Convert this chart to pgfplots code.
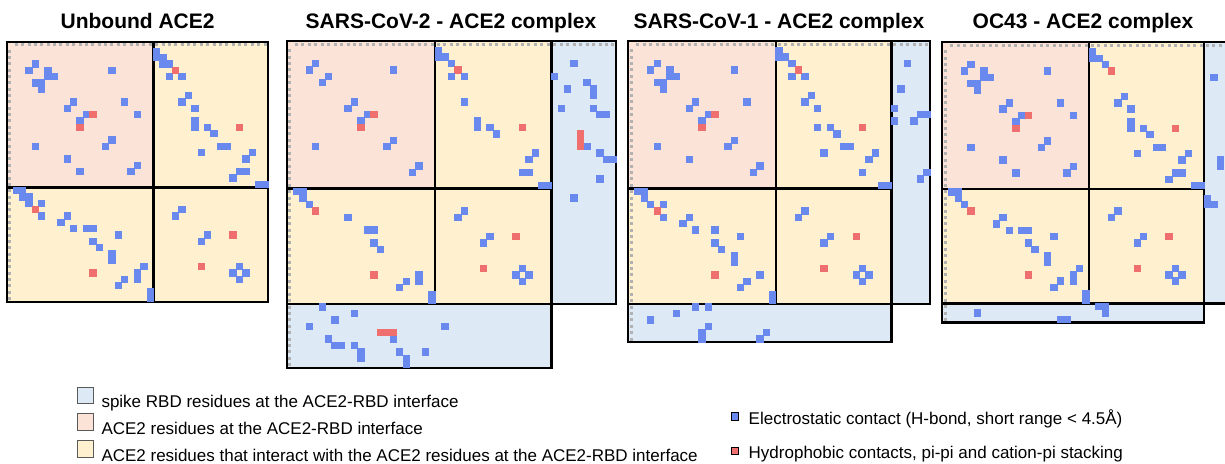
\documentclass[border=0pt]{standalone}
\usepackage{pgfplots}
\pgfplotsset{compat=1.18}
\usepackage{pgfplotstable}
\usepackage{fontspec}
\setmainfont{Liberation Sans}

\definecolor{cpink}{HTML}{FBE3D7}
\definecolor{cyel}{HTML}{FFF0CF}
\definecolor{clb}{HTML}{DDEAF6}
\definecolor{cblue}{HTML}{6A89EE}
\definecolor{cred}{HTML}{EF6F6E}

\newcommand{\tf}{\fontsize{21}{25}\selectfont\bfseries}
\newcommand{\lf}{\fontsize{17}{20}\selectfont}

% contacts: c = column residue, r = row residue (upper half; drawn mirrored too)
% residues 1-22 ACE2 interface, 23-40 second shell, 41+ spike RBD
\pgfplotstableread{
c r
4 3
6 4
6 5
7 5
16 4
10 9
18 9
12 11
20 11
16 15
20 19
23 1
23 2
24 2
24 3
25 3
25 5
27 5
28 8
27 9
29 10
29 12
29 13
31 13
32 14
33 16
34 16
30 17
38 17
37 18
36 20
37 20
35 21
39 22
40 22
27 26
31 30
36 35
37 36
}\pAb
\pgfplotstableread{
c r
13 11
26 4
36 13
35 30
}\pAr

\pgfplotstableread{
c r
4 3
6 5
16 4
10 9
12 11
16 15
20 19
23 1
23 2
24 2
25 3
27 9
29 12
29 13
31 13
32 14
38 17
37 18
36 20
37 20
39 22
40 22
27 26
31 30
36 35
37 36
41 5
42 10
43 7
44 3
44 24
46 6
46 16
47 7
47 8
47 10
48 11
48 17
48 21
49 11
49 18
50 18
}\pBb
\pgfplotstableread{
c r
13 11
26 4
36 13
35 30
45 14
45 15
45 16
}\pBr
\pgfplotstableread{
c r
25 5
27 5
}\pBx

\pgfplotstableread{
c r
4 3
6 4
6 5
7 5
16 4
10 9
18 9
12 11
16 15
20 19
23 1
23 2
24 2
25 3
25 5
27 5
28 8
27 9
29 10
29 13
31 13
32 14
33 16
34 16
30 17
38 17
37 18
36 20
39 22
40 22
27 26
31 30
36 35
37 36
41 10
41 12
42 7
43 3
44 12
45 11
45 21
46 11
46 20
}\pCb

\pgfplotstableread{
c r
4 3
6 4
6 5
7 5
16 4
10 9
18 9
12 11
20 11
16 15
20 19
23 1
23 2
24 2
25 3
28 8
27 9
29 10
29 12
29 13
31 13
32 14
33 16
34 16
30 17
38 17
37 18
36 20
37 20
35 21
39 22
40 22
27 26
31 30
36 35
37 36
42 5
43 18
43 19
41 24
41 25
42 25
}\pDb

% label strip positions (row/column 0 holds the residue labels)
\pgfplotstableread{
i z
1 0
2 0
3 0
4 0
5 0
6 0
7 0
8 0
9 0
10 0
11 0
12 0
13 0
14 0
15 0
16 0
17 0
18 0
19 0
20 0
21 0
22 0
23 0
24 0
25 0
26 0
27 0
28 0
29 0
30 0
31 0
32 0
33 0
34 0
35 0
36 0
37 0
38 0
39 0
40 0
41 0
42 0
43 0
44 0
45 0
46 0
47 0
48 0
49 0
50 0
}\hdr

\pgfplotsset{
  panel/.style={anchor=north west, y dir=reverse, xmin=-0.5, ymin=-0.5,
    hide axis, clip=false},
  ce/.style={only marks, mark=square*, mark size=3.2pt, mark options={line width=0pt}},
  hd/.style={only marks, mark=square*, mark size=1pt, black!30, mark options={line width=0pt}},
  bd/.style={black, line width=2.2pt, line cap=rect, line join=miter},
}

\newcommand{\blocks}{%
  \addplot[draw=none, fill=cyel] coordinates {(-0.5,-0.5) (40.5,-0.5) (40.5,40.5) (-0.5,40.5)};
  \addplot[draw=none, fill=cpink] coordinates {(-0.5,-0.5) (22.5,-0.5) (22.5,22.5) (-0.5,22.5)};
}
\newcommand{\strips}[2]{% #1 right end, #2 bottom end
  \addplot[draw=none, fill=clb] coordinates {(40.5,-0.5) (#1,-0.5) (#1,40.5) (40.5,40.5)};
  \addplot[draw=none, fill=clb] coordinates {(-0.5,40.5) (40.5,40.5) (40.5,#2) (-0.5,#2)};
}
\newcommand{\heads}[1]{%
  \addplot[hd, restrict x to domain=1:#1] table[x=i, y=z]{\hdr};
  \addplot[hd, restrict y to domain=1:#1] table[x=z, y=i]{\hdr};
}
\newcommand{\contacts}[2]{%
  \addplot[ce, cblue] table[x=c, y=r]{#1};
  \addplot[ce, cblue] table[x=r, y=c]{#1};
  \addplot[ce, cred] table[x=c, y=r]{#2};
  \addplot[ce, cred] table[x=r, y=c]{#2};
}
\newcommand{\mainframe}{%
  \addplot[bd] coordinates {(-0.5,-0.5) (40.5,-0.5) (40.5,40.5) (-0.5,40.5) (-0.5,-0.5)};
  \addplot[bd] coordinates {(22.5,-0.5) (22.5,40.5)};
  \addplot[bd] coordinates {(-0.5,22.5) (40.5,22.5)};
}
\newcommand{\stripframes}[1]{%
  \addplot[bd] coordinates {(40.5,-0.5) (#1,-0.5) (#1,40.5) (40.5,40.5)};
  \addplot[bd] coordinates {(-0.5,40.5) (-0.5,#1) (40.5,#1) (40.5,40.5)};
}

\begin{document}
\begin{tikzpicture}
\useasboundingbox (0,0) rectangle (1225pt,-463pt);

\begin{axis}[panel, at={(6.7pt,-41.7pt)}, x=6.38pt, y=6.34pt, xmax=40.5, ymax=40.5]
  \blocks
  \heads{40}
  \contacts{\pAb}{\pAr}
  \mainframe
\end{axis}

\begin{axis}[panel, at={(286.7pt,-41pt)}, x=6.46pt, y=6.41pt, xmax=50.5, ymax=50.5]
  \blocks
  \strips{50.5}{50.5}
  \heads{50}
  \contacts{\pBb}{\pBr}
  \addplot[ce, cblue] table[x=c, y=r]{\pBx};
  \mainframe
  \stripframes{50.5}
\end{axis}

\begin{axis}[panel, at={(628.3pt,-41pt)}, x=6.42pt, y=6.41pt, xmax=46.5, ymax=46.5]
  \blocks
  \strips{46.5}{46.5}
  \heads{46}
  \contacts{\pCb}{\pAr}
  \mainframe
  \stripframes{46.5}
\end{axis}

\begin{axis}[panel, at={(942.3pt,-42.3pt)}, x=6.39pt, y=6.37pt, xmax=43.5, ymax=43.5]
  \blocks
  \strips{43.9}{43.5}
  \heads{43}
  \contacts{\pDb}{\pAr}
  \mainframe
  \addplot[bd] coordinates {(43.9,-0.5) (40.5,-0.5)};
  \addplot[bd] coordinates {(40.5,40.5) (43.9,40.5)};
  \addplot[bd] coordinates {(-0.5,40.5) (-0.5,43.5) (40.5,43.5) (40.5,40.5)};
\end{axis}

% titles and legends
\begin{axis}[at={(0pt,0pt)}, anchor=north west, x=1pt, y=1pt, y dir=reverse,
  xmin=0, xmax=1225, ymin=0, ymax=463, hide axis, clip=false,
  legend image code/.code={\draw[#1, line width=1pt] (0pt,-2.3pt) rectangle (16.4pt,14.1pt);},
  legend cell align=left,
  legend style={at={(axis cs:76.7,386.6)}, anchor=north west, draw=none, fill=none,
    inner sep=0pt, outer sep=0pt, row sep=4.5pt, font=\lf,
    nodes={inner sep=0pt},
    /tikz/every odd column/.append style={column sep=7.4pt}}]
  \node[font=\tf, anchor=base] at (axis cs:137.6,28.3) {Unbound ACE2};
  \node[font=\tf, anchor=base] at (axis cs:451,28.3) {SARS-CoV-2 - ACE2 complex};
  \node[font=\tf, anchor=base] at (axis cs:779,28.3) {SARS-CoV-1 - ACE2 complex};
  \node[font=\tf, anchor=base] at (axis cs:1083,28.3) {OC43 - ACE2 complex};
  \addlegendimage{fill=clb, draw=black!65}
  \addlegendentry{\strut spike RBD residues at the ACE2-RBD interface}
  \addlegendimage{fill=cpink, draw=black!65}
  \addlegendentry{\strut ACE2 residues at the ACE2-RBD interface}
  \addlegendimage{fill=cyel, draw=black!65}
  \addlegendentry{\strut ACE2 residues that interact with the ACE2 residues at the ACE2-RBD interface}
\end{axis}

\begin{axis}[at={(0pt,0pt)}, anchor=north west, x=1pt, y=1pt, y dir=reverse,
  xmin=0, xmax=1225, ymin=0, ymax=463, hide axis,
  legend image code/.code={\fill[#1] (0pt,-1.55pt) rectangle (7.3pt,5.75pt);
    \path (0pt,-10pt) (0pt,10pt);},
  legend cell align=left,
  legend style={at={(axis cs:731,408.1)}, anchor=north west, draw=none, fill=none,
    inner sep=0pt, outer sep=0pt, row sep=14pt, font=\lf,
    nodes={inner sep=0pt},
    /tikz/every odd column/.append style={column sep=10pt}}]
  \addlegendimage{fill=cblue}
  \addlegendentry{\strut Electrostatic contact (H-bond, short range < 4.5Å)}
  \addlegendimage{fill=cred}
  \addlegendentry{\strut Hydrophobic contacts, pi-pi and cation-pi stacking}
\end{axis}
\end{tikzpicture}
\end{document}
